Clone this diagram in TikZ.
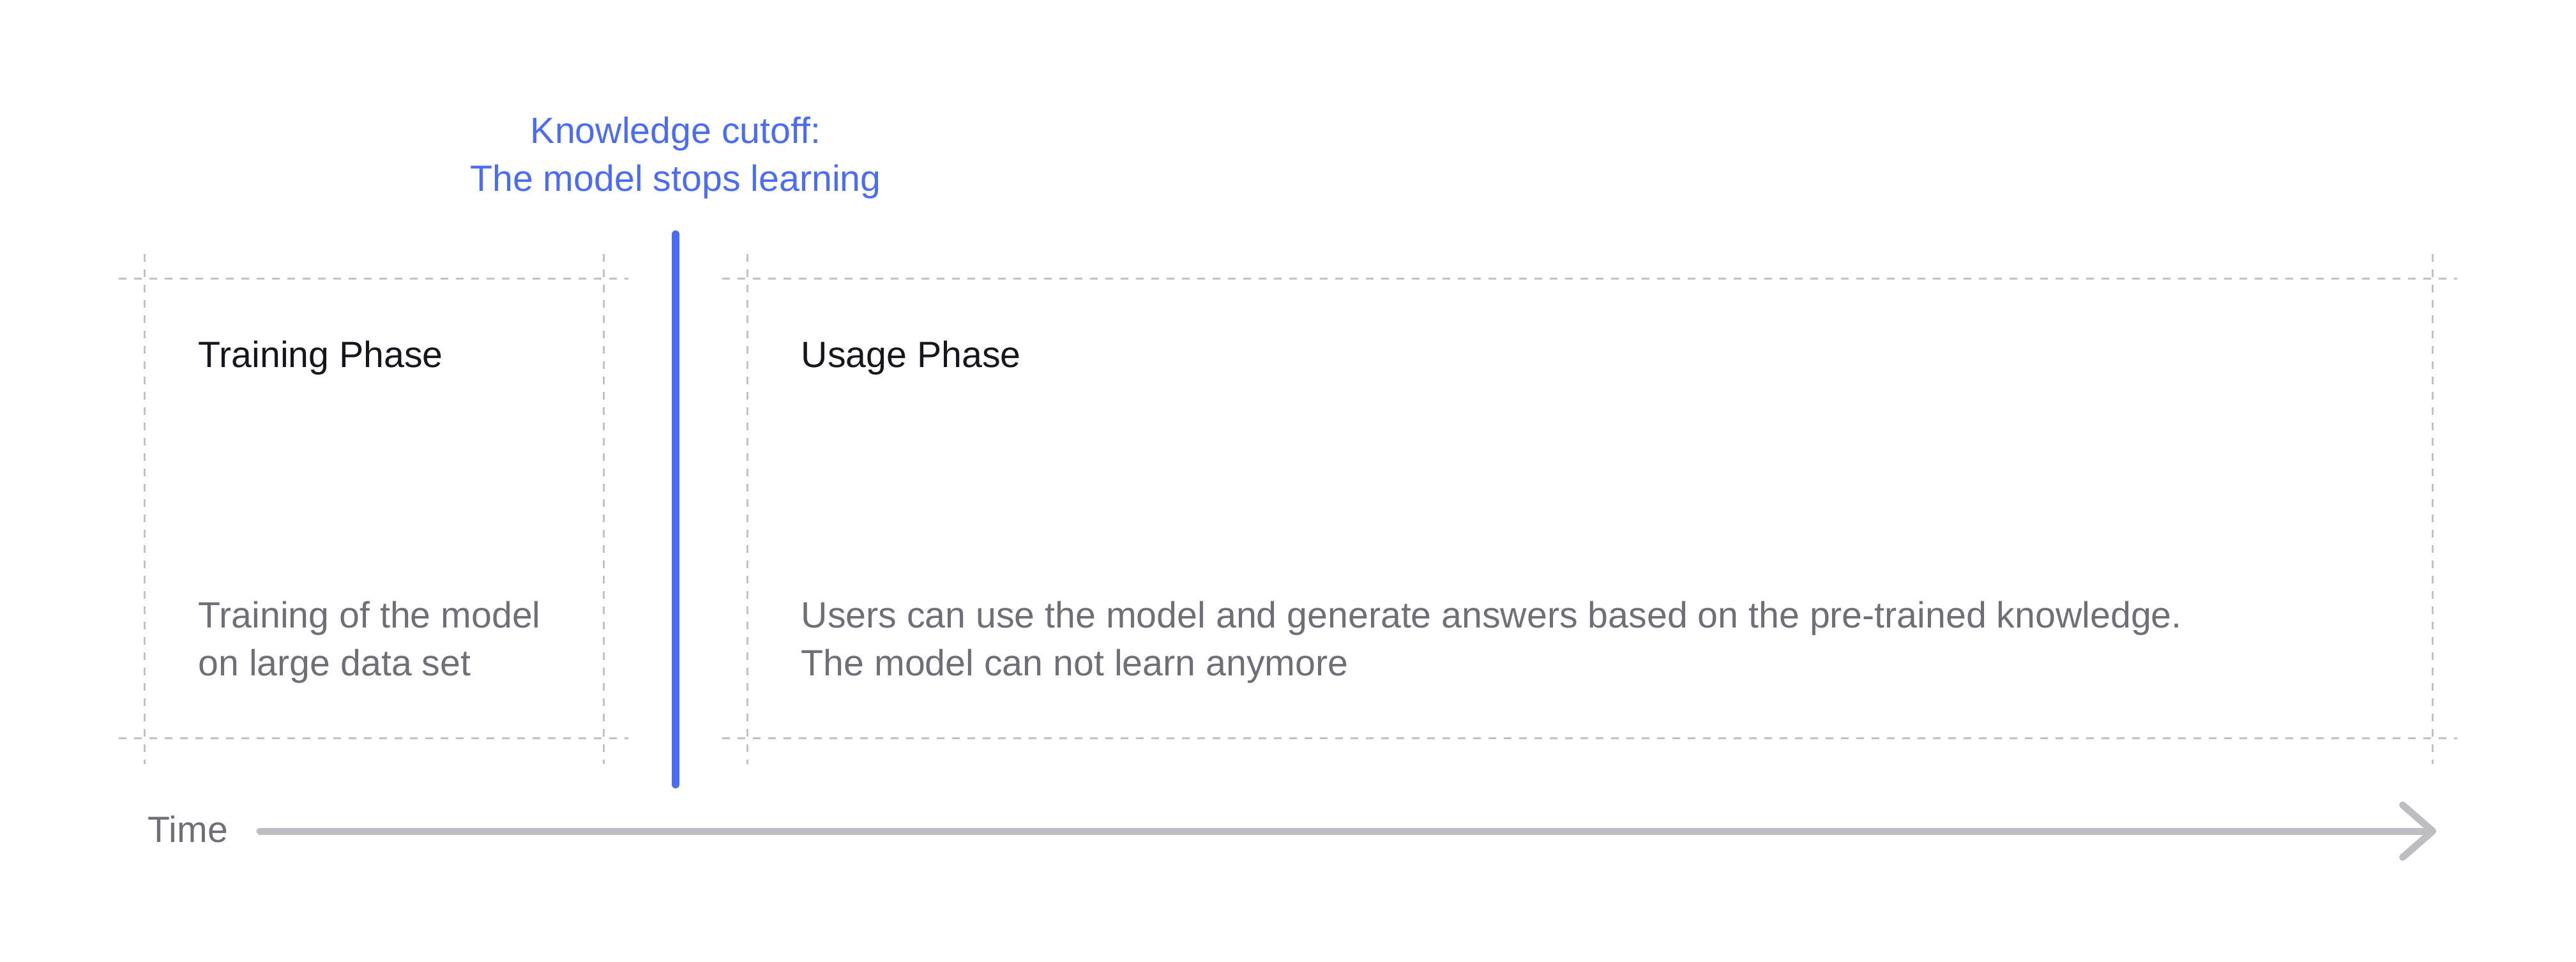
\documentclass[tikz,border=0pt]{standalone}
\usepackage{fontspec}
\setmainfont{Liberation Sans}
\usetikzlibrary{arrows.meta}
\definecolor{cutblue}{HTML}{4A6CF7}
\definecolor{guidegray}{HTML}{C2C2C6}
\definecolor{textgray}{HTML}{6F6F78}
\definecolor{titleblack}{HTML}{16161D}
\definecolor{axisgray}{HTML}{BDBDC2}
\begin{document}
\begin{tikzpicture}[
    guide/.style={guidegray, line width=0.03cm, dash pattern=on 0.12cm off 0.12cm},
    phasetitle/.style={anchor=base west, inner sep=0pt, titleblack, font=\fontsize{16.3}{21.5}\selectfont},
    phasetext/.style={anchor=base west, inner sep=0pt, textgray, align=left, font=\fontsize{16.3}{21.5}\selectfont},
    cutlabel/.style={anchor=base, inner sep=0pt, cutblue, align=center, font=\fontsize{16.3}{21.5}\selectfont}
]
    \useasboundingbox (0,0) rectangle (40.34,15.06);

    % Linhas guia (verticais)
    \foreach \x in {2.26, 9.45, 11.70, 38.09} {
        \draw[guide] (\x,11.08) -- (\x,3.09);
    }

    % Linhas guia (horizontais)
    \foreach \y in {10.69, 3.49} {
        \draw[guide] (1.86,\y) -- (9.84,\y);
        \draw[guide] (11.31,\y) -- (38.48,\y);
    }

    % Fases
    \node[phasetitle] (trainingtitle) at (3.10,9.30) {Training Phase};
    \node[phasetext] (trainingtext) at (3.10,4.47) {Training of the model\\on large data set};
    \node[phasetitle] (usagetitle) at (12.54,9.30) {Usage Phase};
    \node[phasetext] (usagetext) at (12.54,4.47) {Users can use the model and generate answers based on the pre-trained knowledge.\\The model can not learn anymore};

    % Corte do conhecimento
    \node[cutlabel] (cutoff) at (10.58,12.06) {Knowledge cutoff:\\The model stops learning};
    \coordinate (cuttop) at (10.58,11.39);
    \coordinate (cutbottom) at (10.58,2.77);
    \draw[cutblue, line width=0.12cm, line cap=round] (cuttop) -- (cutbottom);

    % Eixo do tempo
    \node[anchor=base west, inner sep=0pt, textgray, font=\fontsize{16.3}{21.5}\selectfont] (time) at (2.31,1.87) {Time};
    \coordinate (timestart) at (4.07,2.04);
    \coordinate (timeend) at (38.15,2.04);
    \draw[axisgray, line width=0.11cm, line cap=round, -{Straight Barb[length=0.47cm, width=0.82cm, round]}] (timestart) -- (timeend);
\end{tikzpicture}
\end{document}
